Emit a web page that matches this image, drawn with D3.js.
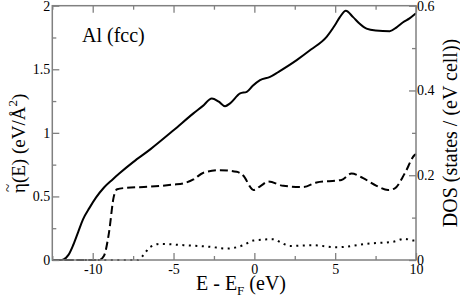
<!DOCTYPE html>
<html>
<head>
<meta charset="utf-8">
<script src="https://cdn.jsdelivr.net/npm/d3@7"></script>
<style>
  body { margin: 0; background: #fff; }
  svg text { font-family: "Liberation Serif", "Times New Roman", Times, "DejaVu Serif", serif; fill: #000; }
</style>
</head>
<body>
<div id="chart"></div>
<script>
// solid curve: eta(E), left axis
var etaE = [-12.5, -12, -11.8, -11.5, -11.2, -10.9, -10.6, -10.2, -9.8, -9.3, -8.8, -8.36, -7.5, -6.44, -5, -3.77, -3.2, -2.63, -2.2, -1.81, -1.5, -0.88, -0.47, -0.1, 0.35, 0.97, 1.5, 2.62, 3.5, 4.47, 5.0, 5.29, 5.66, 6.11, 6.5, 6.94, 7.5, 8.38, 8.8, 9.2, 9.6, 10];
var etaV = [0, 0, 0.005, 0.04, 0.12, 0.22, 0.32, 0.41, 0.49, 0.57, 0.63, 0.68, 0.77, 0.87, 1.02, 1.153, 1.21, 1.27, 1.245, 1.21, 1.232, 1.31, 1.323, 1.37, 1.415, 1.44, 1.48, 1.572, 1.655, 1.755, 1.85, 1.91, 1.96, 1.91, 1.86, 1.82, 1.805, 1.80, 1.83, 1.87, 1.9, 1.94];

// dashed curve: DOS, right axis
var dosE = [-12.5, -9.6, -9.3, -9.0, -8.7, -8.49, -8.0, -6.44, -5, -4.38, -3.77, -3.15, -2.12, -1.09, -0.6, -0.27, -0.06, 0.4, 0.86, 1.79, 3.02, 3.85, 5.39, 6.01, 6.73, 7.56, 8.27, 8.69, 9.3, 9.92, 10];
var dosV = [0, 0, 0.01, 0.063, 0.149, 0.167, 0.17, 0.173, 0.178, 0.181, 0.19, 0.206, 0.212, 0.208, 0.195, 0.173, 0.165, 0.175, 0.185, 0.175, 0.172, 0.183, 0.189, 0.204, 0.193, 0.175, 0.165, 0.169, 0.204, 0.248, 0.25];

// dotted curve, right axis
var dotE = [-12.5, -7.2, -6.8, -6.44, -5.82, -4.38, -2.73, -1.7, -0.68, -0.06, 1.17, 1.7, 2.2, 3.64, 5.08, 7.14, 8.58, 9.3, 9.81, 10];
var dotV = [0, 0, 0.015, 0.031, 0.038, 0.035, 0.031, 0.027, 0.035, 0.046, 0.049, 0.04, 0.033, 0.035, 0.030, 0.039, 0.043, 0.05, 0.046, 0.046];

var xTicks = [-10, -5, 0, 5, 10];
var xMinor = [-12.5, -7.5, -2.5, 2.5, 7.5];
var yLeftTicks = [0, 0.5, 1, 1.5, 2];
var yLeftMinor = [0.25, 0.75, 1.25, 1.75];
var yRightTicks = [0, 0.2, 0.4, 0.6];
var yRightMinor = [0.1, 0.3, 0.5];

(function() {
    var width = 460, height = 301;
    var mLeft = 52.3, mRight = 416, mTop = 5.7, mBottom = 260;
    var frameColor = "#808080";
    var serif = "'Liberation Serif', 'Times New Roman', Times, 'DejaVu Serif', serif";

    var svg = d3.select("#chart").append("svg")
        .attr("width", width)
        .attr("height", height)
        .attr("font-family", serif);

    var x = d3.scaleLinear().domain([-12.5, 10]).range([mLeft, mRight]);
    var yL = d3.scaleLinear().domain([0, 2]).range([mBottom, mTop]);
    var yR = d3.scaleLinear().domain([0, 0.6]).range([mBottom, mTop]);

    function zip(es, vs) {
        return es.map(function(e, i) { return [e, vs[i]]; });
    }

    var lineL = d3.line()
        .x(function(d) { return x(d[0]); })
        .y(function(d) { return yL(d[1]); })
        .curve(d3.curveMonotoneX);

    var lineR = d3.line()
        .x(function(d) { return x(d[0]); })
        .y(function(d) { return yR(d[1]); })
        .curve(d3.curveMonotoneX);

    svg.append("path")
        .attr("d", lineR(zip(dotE, dotV)))
        .attr("fill", "none")
        .attr("stroke", "#000")
        .attr("stroke-width", 2)
        .attr("stroke-dasharray", "2,4.5");

    svg.append("path")
        .attr("d", lineR(zip(dosE, dosV)))
        .attr("fill", "none")
        .attr("stroke", "#000")
        .attr("stroke-width", 2)
        .attr("stroke-dasharray", "8,4");

    svg.append("path")
        .attr("d", lineL(zip(etaE, etaV)))
        .attr("fill", "none")
        .attr("stroke", "#000")
        .attr("stroke-width", 2);

    var fmt = function(d) { return String(d); };

    // axes, ticks drawn inward
    function styleAxis(g) {
        g.attr("font-family", serif);
        g.select(".domain").remove();
        g.selectAll(".tick line").attr("stroke", frameColor).attr("stroke-width", 1.3);
        g.selectAll(".tick text")
            .attr("font-size", 14)
            .attr("fill", "#000");
    }

    svg.append("g")
        .attr("transform", "translate(0," + mBottom + ")")
        .call(d3.axisBottom(x).tickValues(xTicks).tickSize(-7).tickPadding(4).tickFormat(fmt))
        .call(styleAxis);
    svg.append("g")
        .attr("transform", "translate(0," + mBottom + ")")
        .call(d3.axisBottom(x).tickValues(xMinor).tickSize(-4).tickFormat(""))
        .call(styleAxis);
    svg.append("g")
        .attr("transform", "translate(0," + mTop + ")")
        .call(d3.axisTop(x).tickValues(xTicks).tickSize(-7).tickFormat(""))
        .call(styleAxis);
    svg.append("g")
        .attr("transform", "translate(0," + mTop + ")")
        .call(d3.axisTop(x).tickValues(xMinor).tickSize(-4).tickFormat(""))
        .call(styleAxis);

    svg.append("g")
        .attr("transform", "translate(" + mLeft + ",0)")
        .call(d3.axisLeft(yL).tickValues(yLeftTicks).tickSize(-7).tickPadding(2).tickFormat(fmt))
        .call(styleAxis);
    svg.append("g")
        .attr("transform", "translate(" + mLeft + ",0)")
        .call(d3.axisLeft(yL).tickValues(yLeftMinor).tickSize(-4).tickFormat(""))
        .call(styleAxis);

    svg.append("g")
        .attr("transform", "translate(" + mRight + ",0)")
        .call(d3.axisRight(yR).tickValues(yRightTicks).tickSize(-7).tickPadding(1).tickFormat(fmt))
        .call(styleAxis);
    svg.append("g")
        .attr("transform", "translate(" + mRight + ",0)")
        .call(d3.axisRight(yR).tickValues(yRightMinor).tickSize(-4).tickFormat(""))
        .call(styleAxis);

    svg.append("rect")
        .attr("x", mLeft)
        .attr("y", mTop)
        .attr("width", mRight - mLeft)
        .attr("height", mBottom - mTop)
        .attr("fill", "none")
        .attr("stroke", frameColor)
        .attr("stroke-width", 1.5);

    // labels
    svg.append("text")
        .attr("x", 82)
        .attr("y", 42)
        .attr("font-size", 20)
        .text("Al (fcc)");

    var xt = svg.append("text")
        .attr("x", 241)
        .attr("y", 290)
        .attr("text-anchor", "middle")
        .attr("font-size", 20);
    xt.append("tspan").text("E - E");
    xt.append("tspan").attr("font-size", 13).attr("dy", 5).text("F");
    xt.append("tspan").attr("dy", -5).text(" (eV)");

    var yt = svg.append("text")
        .attr("transform", "translate(25,193) rotate(-90)")
        .attr("font-size", 19);
    yt.append("tspan").text("\u03B7(E) (eV/\u00C5");
    yt.append("tspan").attr("font-size", 13).attr("dy", -8).text("2");
    yt.append("tspan").attr("dy", 8).text(")");

    svg.append("text")
        .attr("transform", "translate(25,193) rotate(-90)")
        .attr("x", 1)
        .attr("y", -12)
        .attr("font-size", 15)
        .text("~");

    svg.append("text")
        .attr("transform", "translate(457,133) rotate(-90)")
        .attr("text-anchor", "middle")
        .attr("font-size", 20)
        .text("DOS (states / (eV cell))");
})();
</script>
</body>
</html>
